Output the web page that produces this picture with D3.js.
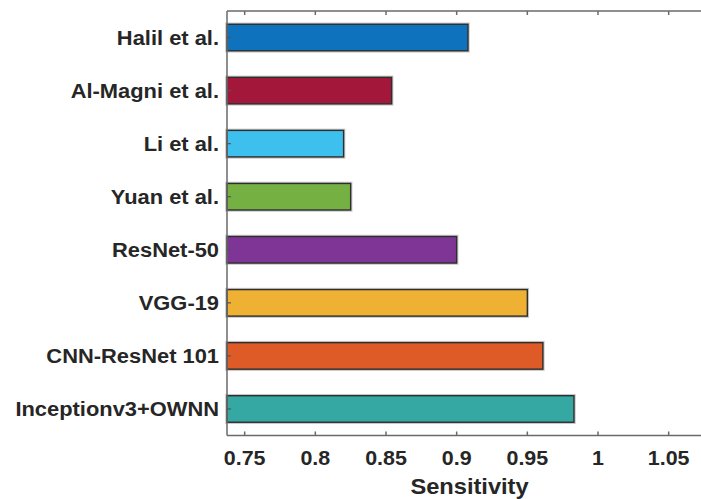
<!DOCTYPE html>
<html><head><meta charset="utf-8">
<script src="https://cdn.jsdelivr.net/npm/d3@7"></script>
<style>body{margin:0;background:#fff}svg{display:block}text{font-family:"Liberation Sans",Arial,sans-serif;font-weight:bold;fill:#262626}</style>
</head><body><svg id="c" width="701" height="499"></svg>
<script>
const categories = ["Halil et al.","Al-Magni et al.","Li et al.","Yuan et al.","ResNet-50","VGG-19","CNN-ResNet 101","Inceptionv3+OWNN"];
const sensitivity = [0.908, 0.854, 0.820, 0.825, 0.900, 0.950, 0.961, 0.983];
const barColors = ["#0f72bd","#a2173a","#3ec0ee","#74b042","#7e3596","#efb134","#de5b27","#36a8a3"];
const xTicks = [0.75,0.8,0.85,0.9,0.95,1,1.05];
const xTickLabels = ["0.75","0.8","0.85","0.9","0.95","1","1.05"];
const xTitle = "Sensitivity";

const svg = d3.select("#c");
const L=227, R=704, T=11, B=435.5, SX=1.1, SY=1.122;
const x = d3.scaleLinear().domain([0.7375,1.075]).range([L,R]);
const y = d3.scaleBand().domain(categories).range([T,B]).paddingInner(0.5).paddingOuter(0.25);

// bars
const bars = svg.append("g");
categories.forEach((c,i)=>{
  bars.append("rect").attr("x",x.range()[0]).attr("y",y(c)).attr("width",x(sensitivity[i])-L).attr("height",y.bandwidth())
    .attr("fill","none").attr("stroke","rgba(0,0,0,0.22)").attr("stroke-width",3.5);
  bars.append("rect").attr("x",L).attr("y",y(c)).attr("width",x(sensitivity[i])-L).attr("height",y.bandwidth())
    .attr("fill",barColors[i]).attr("stroke","#2e2e2e").attr("stroke-width",1.4);
});

// axes box
const ax = svg.append("g").attr("stroke","#6a6a6a").attr("stroke-width",1.5).attr("fill","none");
ax.append("line").attr("x1",L).attr("x2",L).attr("y1",T).attr("y2",B);
ax.append("line").attr("x1",L).attr("x2",701).attr("y1",T).attr("y2",T);
ax.append("line").attr("x1",L).attr("x2",701).attr("y1",B).attr("y2",B);
xTicks.forEach(t=>{
  ax.append("line").attr("x1",x(t)).attr("x2",x(t)).attr("y1",T).attr("y2",T+4);
  ax.append("line").attr("x1",x(t)).attr("x2",x(t)).attr("y1",B).attr("y2",B-4);
});
categories.forEach(c=>{
  const cy=y(c)+y.bandwidth()/2;
  ax.append("line").attr("x1",L).attr("x2",L+4).attr("y1",cy).attr("y2",cy).attr("stroke","#555").attr("stroke-width",1.2);
});

// tick labels
xTicks.forEach((t,i)=>{
  svg.append("text").attr("transform",`translate(${x(t)},465) scale(${SX},1)`).attr("text-anchor","middle")
    .style("font-size","19.5px").text(xTickLabels[i]);
});
categories.forEach(c=>{
  const cy=y(c)+y.bandwidth()/2;
  svg.append("text").attr("transform",`translate(219,${cy+7.5}) scale(${SY},1)`).attr("text-anchor","end")
    .style("font-size","19.5px").text(c);
});
svg.append("text").attr("transform",`translate(469.5,493.5) scale(${SX},1)`).attr("text-anchor","middle")
  .style("font-size","21.5px").text(xTitle);
</script></body></html>
